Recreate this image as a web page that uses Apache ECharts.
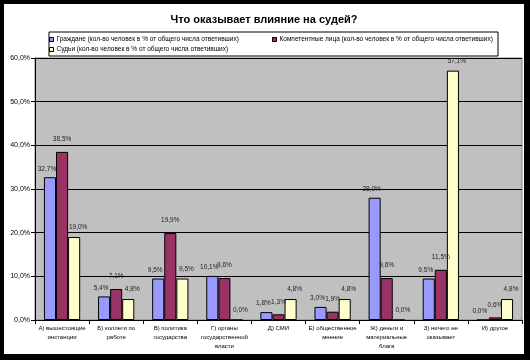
<!DOCTYPE html>
<html><head><meta charset="utf-8">
<script src="https://cdn.jsdelivr.net/npm/echarts@6/dist/echarts.min.js"></script>
<style>
html,body{margin:0;padding:0;background:#000;width:530px;height:360px;overflow:hidden}
#chart{position:absolute;left:4px;top:4px;width:520px;height:350px;background:#fff}
</style></head><body>
<div id="chart"></div>
<script>
const categories = [
  'А) вышестоящие\nинстанции',
  'Б) коллеги по\nработе',
  'В) политика\nгосударства',
  'Г) органы\nгосударственной\nвласти',
  'Д) СМИ',
  'Е) общественное\nмнение',
  'Ж) деньги и\nматериальные\nблага',
  'З) ничего не\nоказывает',
  'И) другое'
];
const seriesNames = [
  'Граждане (кол-во человек в % от общего числа ответивших)',
  'Компетентные лица (кол-во человек в % от общего числа ответивших)',
  'Судьи (кол-во человек в % от общего числа ответивших)'
];
const citizens = [32.7, 5.4, 9.5, 10.1, 1.8, 3.0, 28.0, 9.5, 0.0];
const experts  = [38.5, 7.1, 19.9, 9.6, 1.3, 1.9, 9.6, 11.5, 0.6];
const judges   = [19.0, 4.8, 9.5, 0.0, 4.8, 4.8, 0.0, 57.1, 4.8];
const colors = ['#9999FF', '#993366', '#FFFFCC'];
const title = 'Что оказывает влияние на судей?';

const FONT = 'Liberation Sans';
const fmt = v => v.toFixed(1).replace('.', ',') + '%';
const chart = echarts.init(document.getElementById('chart'));
const data = [citizens, experts, judges];
const legendPos = [{left: 45, top: 32}, {left: 268, top: 32}, {left: 45, top: 42}];
const labelDist = [5, 9, 6];
const labelDx = [-3, 0, 4];
chart.setOption({
  animation: false,
  textStyle: {fontFamily: FONT},
  title: {text: title, left: 'center', top: 5,
    textStyle: {fontSize: 11, fontWeight: 'bold', color: '#000', fontFamily: FONT}},
  legend: seriesNames.map((n, i) => ({
    data: [n], left: legendPos[i].left, top: legendPos[i].top, padding: 0,
    itemWidth: 4, itemHeight: 4, itemGap: 0, icon: 'rect',
    textStyle: {fontSize: 6.5, color: '#000', fontFamily: FONT, padding: [0, 0, 0, -2]},
    itemStyle: {borderColor: '#000', borderWidth: 1}
  })),
  graphic: [{type: 'rect', shape: {x: 45, y: 28, width: 449, height: 24},
    style: {fill: null, stroke: '#000', lineWidth: 1}, z: 0}],
  grid: {left: 31, top: 54, right: 2, bottom: 34, show: true,
    backgroundColor: '#C0C0C0', borderColor: '#808080', borderWidth: 1},
  xAxis: {type: 'category', data: categories,
    axisLine: {lineStyle: {color: '#000'}},
    axisTick: {show: true, length: 4, lineStyle: {color: '#000'}},
    axisLabel: {interval: 0, fontSize: 6, color: '#000', lineHeight: 9, margin: 4, fontFamily: FONT}},
  yAxis: {type: 'value', min: 0, max: 60, interval: 10,
    axisLine: {show: true, lineStyle: {color: '#000'}},
    axisTick: {show: true, length: 4, lineStyle: {color: '#000'}},
    splitLine: {lineStyle: {color: '#000', width: 1}},
    axisLabel: {formatter: v => v.toFixed(1).replace('.', ',') + '%', fontSize: 7, color: '#000', margin: 5, fontFamily: FONT}},
  series: seriesNames.map((n, i) => ({
    name: n, type: 'bar', data: data[i], barGap: '0%', barCategoryGap: '33%',
    itemStyle: {color: colors[i], borderColor: '#000', borderWidth: 1},
    label: {show: true, position: 'top', distance: labelDist[i], offset: [labelDx[i], 0],
      formatter: p => fmt(p.value), fontSize: 6.5, color: '#222', fontFamily: FONT}
  }))
});
</script></body></html>
